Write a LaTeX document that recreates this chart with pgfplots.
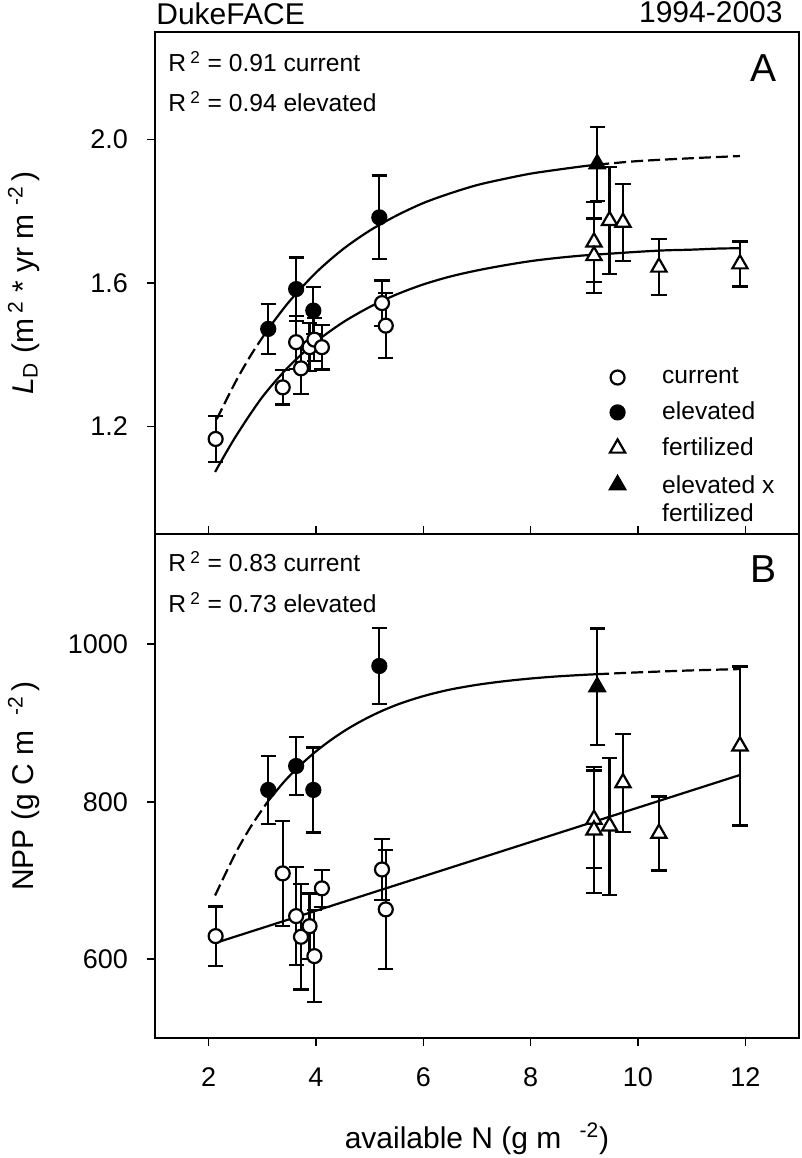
\documentclass[border=0pt]{standalone}
\usepackage{fontspec}
\setmainfont{Liberation Sans}
\usepackage{pgfplots}
\usepackage{pgfplotstable}
\pgfplotsset{compat=1.18}

% Panel A data: x  y  error
\pgfplotstableread{
x y e
2.13 1.165 0.064
3.38 1.309 0.048
3.63 1.435 0.074
3.72 1.362 0.072
3.88 1.421 0.067
3.97 1.442 0.060
4.11 1.421 0.062
5.23 1.544 0.063
5.30 1.481 0.090
}\curA
\pgfplotstableread{
x y e
3.11 1.472 0.069
3.63 1.583 0.088
3.95 1.523 0.065
5.18 1.783 0.117
}\eleA
\pgfplotstableread{
x y e
9.18 1.714 0.112
9.18 1.676 0.104
9.47 1.774 0.149
9.72 1.769 0.107
10.39 1.644 0.078
11.90 1.653 0.063
}\ferA
\pgfplotstableread{
x y e
9.24 1.932 0.104
}\efA

% Panel B data
\pgfplotstableread{
x y e
2.13 629.4 37.7
3.38 709.0 66.8
3.63 654.8 62.0
3.72 628.5 67.0
3.88 642.0 41.6
3.97 604.0 58.4
4.11 690.0 23.2
5.23 714.0 38.6
5.30 663.3 75.3
}\curB
\pgfplotstableread{
x y e
3.11 815.0 43
3.63 845.4 37
3.95 815.0 54
5.18 972.4 48
}\eleB
\pgfplotstableread{
x y e
9.18 777.6 62
9.18 764.0 80
9.47 769.0 87
9.72 824.0 62
10.39 759.8 47
11.90 870.8 101
}\ferB
\pgfplotstableread{
x y e
9.24 946 74
}\efB

\pgfplotsset{
  panel/.style={
    scale only axis, width=322pt, anchor=south west,
    xmin=1, xmax=13,
    axis line style={line width=1pt},
    tick style={line width=0.8pt, black},
    tick align=outside, major tick length=4pt,
    ytick pos=left,
    /pgf/number format/assume math mode=true,
    ticklabel style={font=\fontsize{13.5}{16}\selectfont},
    yticklabel style={xshift=-6pt},
    xticklabel style={yshift=-7.5pt},
    clip=false,
  },
  errs/.style={
    error bars/.cd, y dir=both, y explicit,
    error bar style={line width=1.1pt, black},
    error mark options={rotate=90, mark size=3.8pt, line width=1.1pt, black},
  },
  opencirc/.style={only marks, mark=*, mark size=3.5pt, mark options={fill=white, draw=black, line width=1.1pt}},
  fillcirc/.style={only marks, mark=*, mark size=3.5pt, mark options={fill=black, draw=black, line width=1.1pt}},
  opentri/.style={only marks, mark=triangle*, mark size=4.4pt, mark options={fill=white, draw=black, line width=1.1pt}},
  filltri/.style={only marks, mark=triangle*, mark size=4.4pt, mark options={fill=black, draw=black, line width=1.1pt}},
  fitline/.style={forget plot, black, line width=1.1pt, no markers, smooth},
  fitdash/.style={forget plot, black, line width=1.1pt, no markers, smooth, dash pattern=on 6pt off 2.5pt},
}

\begin{document}
\begin{tikzpicture}[x=1pt,y=1pt]
% ---------------- Panel A ----------------
\begin{axis}[panel, at={(77.5pt,312pt)}, height=251pt,
  ymin=0.9, ymax=2.3,
  xtick=\empty,
  ytick={1.2,1.6,2.0}, yticklabels={1.2,1.6,2.0},
  legend style={at={(axis cs:9.47,1.375)}, anchor=north west, draw=none, fill=none,
    inner sep=0pt, row sep=3.5pt, column sep=16.5pt,
    font=\fontsize{12.3}{14}\selectfont},
  legend cell align=left,
]
\addplot[fitdash] coordinates {(2.15,1.220) (2.5,1.324) (2.8,1.402) (3.11,1.472)};
\addplot[fitline] coordinates {(3.11,1.472) (3.5,1.548) (4.0,1.629) (4.5,1.694) (5.0,1.746) (5.5,1.788) (6.0,1.823) (6.5,1.850) (7.0,1.873) (7.5,1.890) (8.0,1.905) (8.5,1.916) (9.0,1.926) (9.24,1.930)};
\addplot[fitdash] coordinates {(9.24,1.930) (10.0,1.940) (11.0,1.948) (11.9,1.954)};
\addplot[fitline] coordinates {(2.12,1.073) (2.5,1.171) (3.0,1.282) (3.5,1.368) (4.0,1.436) (4.5,1.490) (5.0,1.533) (5.5,1.568) (6.0,1.596) (6.5,1.618) (7.0,1.635) (7.5,1.649) (8.0,1.661) (8.5,1.670) (9.0,1.677) (9.5,1.682) (10.0,1.687) (10.5,1.691) (11.0,1.693) (11.5,1.696) (11.9,1.697)};
\addplot[opencirc, errs] table[x=x, y=y, y error=e] {\curA};
\addlegendentry{current}
\addplot[fillcirc, errs] table[x=x, y=y, y error=e] {\eleA};
\addlegendentry{elevated}
\addplot[opentri, errs] table[x=x, y=y, y error=e] {\ferA};
\addlegendentry{fertilized}
\addplot[filltri, errs] table[x=x, y=y, y error=e] {\efA};
\addlegendentry{\begin{tabular}[t]{@{}l@{}}elevated x\\fertilized\end{tabular}}
\end{axis}
% ---------------- Panel B ----------------
\begin{axis}[panel, at={(77.5pt,60pt)}, height=252pt,
  ymin=500, ymax=1140,
  xtick={2,4,6,8,10,12}, xticklabels={2,4,6,8,10,12},
  xtick pos=both,
  ytick={600,800,1000}, yticklabels={600,800,1000},
]
\addplot[fitdash] coordinates {(2.12,681) (2.5,734.6) (2.8,770) (3.11,801)};
\addplot[fitline] coordinates {(3.11,801) (3.4,825) (3.7,846) (4.0,864) (4.3,879.5) (4.6,893) (4.9,904.5) (5.2,914.5) (5.5,923) (5.8,930) (6.1,936) (6.5,942.5) (7.0,948.5) (7.5,953) (8.0,956.5) (8.5,959.2) (9.0,961.2) (9.24,962)};
\addplot[fitdash] coordinates {(9.24,962) (10.0,964.3) (11.0,966.8) (11.9,968.5)};
\addplot[fitline] coordinates {(2.13,620.8) (11.90,834.0)};
\addplot[opencirc, errs] table[x=x, y=y, y error=e] {\curB};
\addplot[fillcirc, errs] table[x=x, y=y, y error=e] {\eleB};
\addplot[opentri, errs] table[x=x, y=y, y error=e] {\ferB};
\addplot[filltri, errs] table[x=x, y=y, y error=e] {\efB};
\end{axis}
% ---------------- Texts ----------------
\node[anchor=base west, inner sep=0pt, font=\fontsize{15}{18}\selectfont] at (78,566.5) {DukeFACE};
\node[anchor=base east, inner sep=0pt, font=\fontsize{15}{18}\selectfont] at (391.5,567.5) {1994-2003};
\node[anchor=base west, inner sep=0pt, font=\fontsize{12.3}{14}\selectfont] at (84,543) {R\,\textsuperscript{2}\ = 0.91 current};
\node[anchor=base west, inner sep=0pt, font=\fontsize{12.3}{14}\selectfont] at (84,523) {R\,\textsuperscript{2}\ = 0.94 elevated};
\node[anchor=base east, inner sep=0pt, font=\fontsize{19.5}{22}\selectfont] at (388.5,538) {A};
\node[anchor=base west, inner sep=0pt, font=\fontsize{12.3}{14}\selectfont] at (84,293) {R\,\textsuperscript{2}\ = 0.83 current};
\node[anchor=base west, inner sep=0pt, font=\fontsize{12.3}{14}\selectfont] at (84,272.5) {R\,\textsuperscript{2}\ = 0.73 elevated};
\node[anchor=base east, inner sep=0pt, font=\fontsize{19.5}{22}\selectfont] at (388.5,287.5) {B};
\node[rotate=90, anchor=base, inner sep=0pt, font=\fontsize{15}{18}\selectfont] at (16.5,437.5) {\textit{L}\textsubscript{D} (m\,\textsuperscript{2} * yr m\;\textsuperscript{-2}\,)};
\node[rotate=90, anchor=base, inner sep=0pt, font=\fontsize{15}{18}\selectfont] at (16.5,186) {NPP (g C m\hspace{0.5em}\textsuperscript{-2}\,)};
\node[anchor=base, inner sep=0pt, font=\fontsize{15}{18}\selectfont] at (238.5,5) {available N (g m\hspace{0.6em}\textsuperscript{-2})};
\pgfresetboundingbox
\path (0,0) rectangle (401,579);
\end{tikzpicture}
\end{document}
